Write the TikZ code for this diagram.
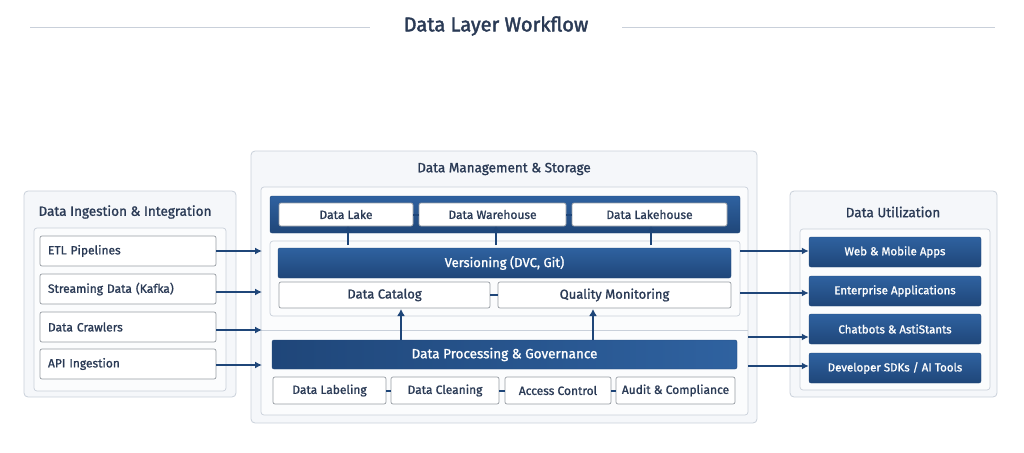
\documentclass[tikz,border=0pt]{standalone}
\usepackage{fontspec}
\setmainfont{Fira Sans}[BoldFont=Fira Sans,BoldFeatures={FakeBold=1.2}]
\newfontfamily\titlefont{Fira Sans}[FakeBold=2]
\usetikzlibrary{arrows.meta}
\definecolor{dk}{HTML}{2A3A55}
\definecolor{bl}{HTML}{2F62A0}
\definecolor{bld}{HTML}{1F4679}
\definecolor{pb}{HTML}{C9D0DA}
\definecolor{pf}{HTML}{F5F7FA}
\begin{document}
\begin{tikzpicture}[x=1pt,y=-1pt,
 panel/.style={draw=pb,fill=pf,rounded corners=4pt,line width=0.8pt},
 inner/.style={draw=pb,fill=white!60!pf,rounded corners=3pt,line width=0.7pt},
 wbox/.style={draw=pb!75!black,fill=white,rounded corners=2pt,line width=0.7pt,text=dk,font=\fontsize{12}{14}\selectfont\bfseries},
 bbar/.style={draw=bld,top color=bl,bottom color=bld,rounded corners=2pt,text=white,font=\fontsize{13}{15}\selectfont\bfseries},
 hbar/.style={draw=bld,left color=bld,right color=bl,rounded corners=2pt,text=white,font=\fontsize{13.5}{15}\selectfont\bfseries},
 ttl/.style={text=dk,font=\fontsize{13.5}{15}\selectfont\bfseries},
 arr/.style={draw=bld,line width=1.6pt,-{Latex[length=7pt,width=7pt]}},
 lnk/.style={draw=bld,line width=2pt}]
\useasboundingbox (0,0) rectangle (1024,452);
% title
\node[text=dk,font=\fontsize{20}{22}\titlefont] (T) at (496,26) {Data Layer Workflow};
\coordinate (tl1) at (30,27); \coordinate (tl2) at (370,27);
\coordinate (tr1) at (622,27); \coordinate (tr2) at (995,27);
\draw[pb,line width=0.8pt] (tl1)--(tl2) (tr1)--(tr2);
% left panel
\draw[panel] (24,191) rectangle (236,397);
\node[ttl] (LT) at (125,212) {Data Ingestion \& Integration};
\draw[inner] (34,228) rectangle (226,391);
\foreach \n/\y/\t in {l1/251/ETL Pipelines,l2/289/Streaming Data (Kafka),l3/327/Data Crawlers,l4/364/API Ingestion}
 \node[wbox,minimum width=176pt,minimum height=30pt,text width=160pt,align=left] (\n) at (128,\y) {\t};
% centre panel
\draw[panel] (251,151) rectangle (757,423);
\node[ttl] (CT) at (504,169) {Data Management \& Storage};
\draw[inner] (261,187) rectangle (748,415);
\node[bbar,minimum width=470pt,minimum height=37pt] (top) at (505,214.5) {};
\node[wbox,minimum width=134pt,minimum height=23pt] (dl) at (346,214.5) {Data Lake};
\node[wbox,minimum width=147pt,minimum height=23pt] (dw) at (492.5,214.5) {Data Warehouse};
\node[wbox,minimum width=155pt,minimum height=23pt] (dh) at (649.5,214.5) {Data Lakehouse};
\draw[lnk] (dl.east)--(dw.west); \draw[lnk] (dw.east)--(dh.west);
\draw[inner] (270,241) rectangle (740,316);
\node[bbar,minimum width=453pt,minimum height=30pt] (ver) at (504.5,263) {Versioning (DVC, Git)};
\node[wbox,minimum width=211pt,minimum height=26pt,font=\fontsize{13}{15}\selectfont\bfseries] (cat) at (384.5,295) {Data Catalog};
\node[wbox,minimum width=233pt,minimum height=26pt,font=\fontsize{13}{15}\selectfont\bfseries] (qm) at (614.5,295) {Quality Monitoring};
\draw[lnk] (cat.east)--(qm.west);
\coordinate (v1) at (348,245); \coordinate (v2) at (496,245); \coordinate (v3) at (651,245);
\draw[arr,line width=2.2pt,-{Latex[length=5pt,width=8pt]}] (v1)--(dl.south-|v1);
\draw[arr,line width=2.2pt,-{Latex[length=5pt,width=8pt]}] (v2)--(dw.south-|v2);
\draw[arr,line width=2.2pt,-{Latex[length=5pt,width=8pt]}] (v3)--(dh.south-|v3);
\coordinate (dv1) at (261,330); \coordinate (dv2) at (748,330);
\draw[pb,line width=0.8pt] (dv1)--(dv2);
\node[hbar,minimum width=465pt,minimum height=29pt] (proc) at (504.5,354.5) {Data Processing \& Governance};
\coordinate (u1) at (401,309); \coordinate (u2) at (593,309);
\draw[arr,line width=2.2pt,-{Latex[length=7pt,width=8pt]}] (proc.north-|u1)--(u1);
\draw[arr,line width=2.2pt,-{Latex[length=7pt,width=8pt]}] (proc.north-|u2)--(u2);
\node[wbox,minimum width=113pt,minimum height=27pt] (b1) at (329.5,390.5) {Data Labeling};
\node[wbox,minimum width=108pt,minimum height=27pt] (b2) at (445,390.5) {Data Cleaning};
\node[wbox,minimum width=106pt,minimum height=27pt] (b3) at (558,390.5) {Access Control};
\node[wbox,minimum width=119pt,minimum height=27pt] (b4) at (675.5,390.5) {Audit \& Compliance};
\draw[lnk] (b1.east)--(b2.west); \draw[lnk] (b2.east)--(b3.west); \draw[lnk] (b3.east)--(b4.west);
% left arrows
\coordinate (a1) at (262,251); \coordinate (a2) at (262,292); \coordinate (a3) at (262,330); \coordinate (a4) at (262,365);
\draw[arr] (l1.east|-a1)--(a1); \draw[arr] (l2.east|-a2)--(a2);
\draw[arr] (l3.east|-a3)--(a3); \draw[arr] (l4.east|-a4)--(a4);
% right panel
\draw[panel] (790,191) rectangle (997,397);
\node[ttl] (RT) at (893,212) {Data Utilization};
\draw[inner] (800,229) rectangle (990,390);
\foreach \n/\y/\t in {r1/252/Web \& Mobile Apps,r2/291/Enterprise Applications,r3/329/Chatbots \& AstiStants,r4/368/{Developer SDKs / AI Tools}}
 \node[bbar,minimum width=172pt,minimum height=30pt,font=\fontsize{11.5}{13}\selectfont\bfseries] (\n) at (895,\y) {\t};
\coordinate (s1) at (740,251); \coordinate (s2) at (740,293); \coordinate (s3) at (748,337); \coordinate (s4) at (748,366);
\draw[arr] (s1)--(s1-|r1.west); \draw[arr] (s2)--(s2-|r2.west);
\draw[arr] (s3)--(s3-|r3.west); \draw[arr] (s4)--(s4-|r4.west);
\end{tikzpicture}
\end{document}
